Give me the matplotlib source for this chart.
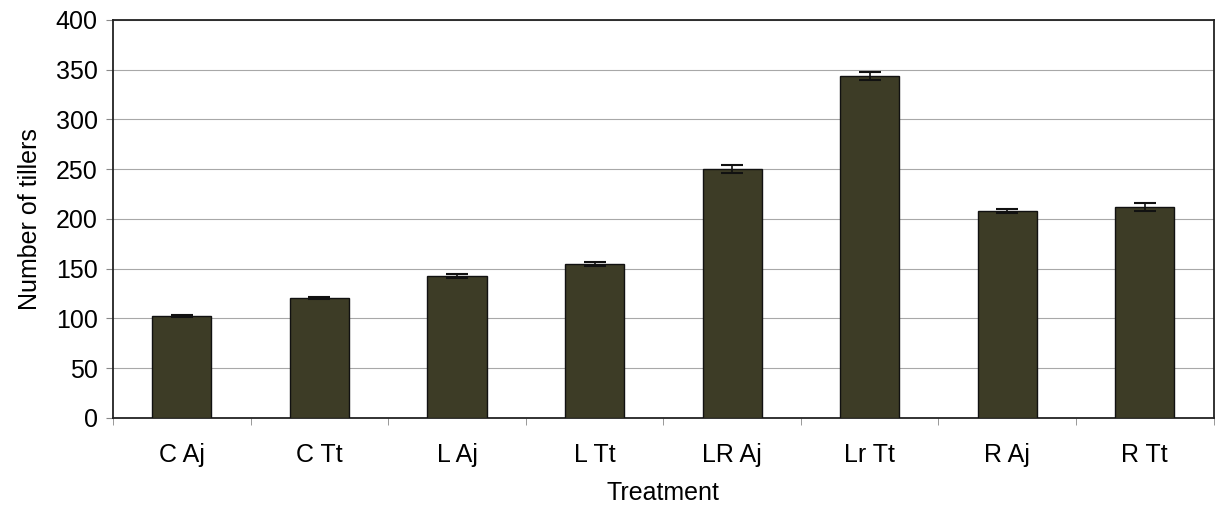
import matplotlib
matplotlib.use("Agg")
import matplotlib.pyplot as plt
import numpy as np

plt.rcParams['font.family'] = ['Liberation Sans', 'DejaVu Sans']

# data
treatments = ['C Aj', 'C Tt', 'L Aj', 'L Tt', 'LR Aj', 'Lr Tt', 'R Aj', 'R Tt']
tillers = [102, 120, 143, 155, 250, 344, 208, 212]
errors = [1, 1, 2, 2, 4, 4, 2, 4]
y_ticks = [0, 50, 100, 150, 200, 250, 300, 350, 400]

fig = plt.figure(figsize=(12.16, 5.09), dpi=100)
ax = fig.add_axes([0.093, 0.179, 0.905, 0.782])

x = np.arange(len(treatments))
ax.bar(x, tillers, width=0.43, color='#3d3c26', edgecolor='#111111', linewidth=1.0,
       yerr=errors, capsize=8, error_kw=dict(ecolor='#111111', elinewidth=1.2, capthick=1.5),
       zorder=3)

ax.set_xlim(-0.5, len(treatments) - 0.5)
ax.set_ylim(0, 400)
ax.set_yticks(y_ticks)
ax.yaxis.grid(True, color='#a8a8a8', linewidth=0.8, zorder=0)

ax.set_xticks(x)
ax.set_xticklabels(treatments)
ax.set_xticks(np.arange(len(treatments) + 1) - 0.5, minor=True)
ax.tick_params(axis='x', which='major', length=0, pad=18, labelsize=18)
ax.tick_params(axis='x', which='minor', length=5, color='#888888')
ax.tick_params(axis='y', length=5, labelsize=18, color='#888888', pad=6)

for s in ax.spines.values():
    s.set_color('#222222')
    s.set_linewidth(1.3)

ax.set_ylabel('Number of tillers', fontsize=18, labelpad=10)
ax.set_xlabel('Treatment', fontsize=18, labelpad=10)

fig.savefig('out.png', dpi=100)
